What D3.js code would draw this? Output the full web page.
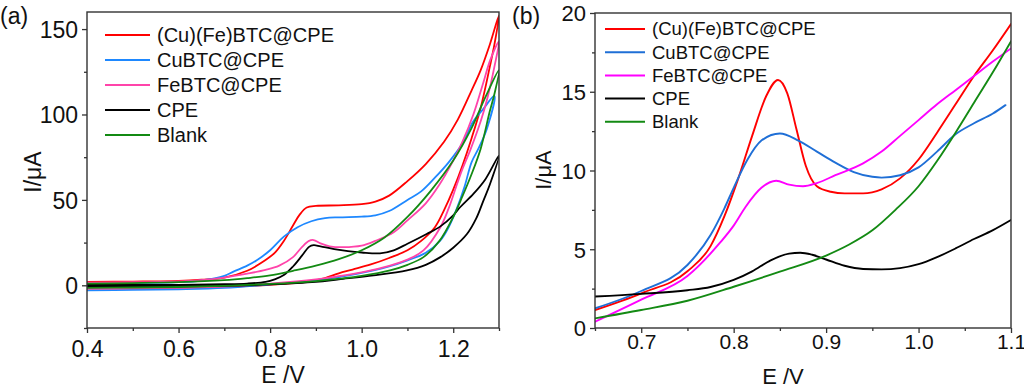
<!DOCTYPE html>
<html><head><meta charset="utf-8">
<script src="https://cdn.jsdelivr.net/npm/d3@7"></script>
<style>
html,body{margin:0;padding:0;background:#fff;}
svg{display:block;font-family:"Liberation Sans",Arial,sans-serif;}
</style></head><body>
<svg id="chart" width="1024" height="390"></svg>
<script>
// ---------- data ----------
const seriesNames = ["(Cu)(Fe)BTC@CPE", "CuBTC@CPE", "FeBTC@CPE", "CPE", "Blank"];
const colorsA = ["#ff0000", "#1e88ff", "#ff44aa", "#000000", "#138a13"];
const colorsB = ["#ff0000", "#1f6fd6", "#ff00ff", "#000000", "#138a13"];

// panel (a): cyclic voltammograms, [E (V), I (uA)] forward then reverse scan
const cvCuFe = [[0.4,2],[0.5,2.2],[0.6,2.6],[0.65,3.3],[0.7,4.5],[0.75,8.5],[0.78,13],[0.81,19],[0.83,26],[0.85,35],[0.865,41.5],[0.88,45.5],[0.9,46.5],[0.95,46.8],[1.0,47.5],[1.03,49],[1.06,52.5],[1.1,61],[1.14,71],[1.18,84],[1.21,97],[1.24,114],[1.26,126],[1.28,141],[1.3,158],
  [1.29,141],[1.28,128],[1.26,104],[1.24,86],[1.22,70],[1.2,56],[1.18,44],[1.16,34],[1.13,26],[1.1,20.5],[1.06,16],[1.02,12.2],[0.98,9.2],[0.95,7],[0.92,4.2],[0.88,2],[0.8,0.3],[0.7,-1],[0.6,-1.5],[0.5,-1.8],[0.4,-2]];
const cvCu = [[0.4,1],[0.5,1.3],[0.6,1.8],[0.65,2.8],[0.7,5.5],[0.72,8],[0.75,11.5],[0.77,14.5],[0.8,20.5],[0.83,28.5],[0.86,34],[0.89,37.5],[0.92,39.3],[0.95,39.8],[1.0,40.2],[1.03,41],[1.06,43.5],[1.1,50],[1.13,55],[1.16,63],[1.19,72],[1.22,83],[1.244,96],[1.265,103],[1.29,111],
  [1.274,92],[1.255,80],[1.24,72],[1.225,58],[1.208,45],[1.19,34],[1.172,26.3],[1.14,19],[1.1,14.6],[1.06,11],[1.026,8.7],[0.953,4.9],[0.9,3],[0.8,0.5],[0.7,-1.5],[0.6,-2.3],[0.5,-2.7],[0.4,-3]];
const cvFe = [[0.4,1.5],[0.5,1.8],[0.6,2.3],[0.65,3],[0.7,4.5],[0.75,6.8],[0.79,9],[0.82,11.5],[0.85,16.5],[0.87,22.5],[0.885,26],[0.895,26.5],[0.91,24.5],[0.93,22.8],[0.96,22.3],[1.0,23.2],[1.03,26],[1.07,31],[1.1,38],[1.14,48],[1.17,59],[1.2,73],[1.22,84],[1.244,100],[1.265,118],[1.281,132],[1.3,143],
  [1.29,128],[1.275,110],[1.26,96],[1.237,79],[1.22,68],[1.208,59],[1.19,45],[1.172,34],[1.135,20.4],[1.1,15],[1.062,11.5],[1.0,7.5],[0.953,5.5],[0.9,3.5],[0.8,1],[0.7,-0.8],[0.6,-1.5],[0.5,-1.8],[0.4,-2]];
const cvCPE = [[0.4,0.2],[0.5,0.2],[0.6,0.3],[0.7,0.6],[0.75,1],[0.79,2],[0.81,3.5],[0.83,6],[0.85,11],[0.87,17.5],[0.885,22.5],[0.895,23.5],[0.91,22.8],[0.94,21.2],[0.97,20],[1.0,19.2],[1.04,18.7],[1.07,20.5],[1.1,24.3],[1.142,30],[1.172,34.5],[1.2,41],[1.215,45.7],[1.244,53.5],[1.27,62],[1.3,76],
  [1.28,59],[1.266,49.6],[1.25,39],[1.23,30],[1.2,22],[1.172,16.5],[1.14,12],[1.099,8.75],[1.026,5.8],[0.95,3.5],[0.9,2],[0.8,0.5],[0.7,-0.3],[0.6,-0.6],[0.4,-0.8]];
const cvBlank = [[0.4,1],[0.5,1.3],[0.6,1.8],[0.7,3],[0.75,4.2],[0.8,5.8],[0.85,8.5],[0.9,11.5],[0.95,15.3],[1.0,20.5],[1.05,28],[1.1,40],[1.15,55],[1.2,73],[1.24,92],[1.27,110],[1.3,126],
  [1.29,112],[1.28,102],[1.26,80],[1.24,65],[1.22,52],[1.2,40],[1.17,26],[1.135,16.5],[1.1,12],[1.062,8.75],[1.0,5.5],[0.953,3.9],[0.9,2.5],[0.8,0.8],[0.7,-0.3],[0.6,-1],[0.5,-1.3],[0.4,-1.5]];

// panel (b): linear sweep segment, [E (V), I (uA)]
const lsvCuFe = [[0.65,1.14],[0.7,2.2],[0.75,3.6],[0.775,5.2],[0.79,7.1],[0.805,9.5],[0.82,12.2],[0.835,14.7],[0.848,15.75],[0.858,14.9],[0.868,12.6],[0.878,10.3],[0.89,9.0],[0.905,8.65],[0.92,8.55],[0.94,8.55],[0.96,8.8],[0.98,9.5],[1.0,10.7],[1.02,12.4],[1.04,14.2],[1.06,16.0],[1.08,17.6],[1.1,19.3]];
const lsvCu = [[0.65,1.25],[0.7,2.35],[0.75,4.0],[0.775,5.9],[0.79,7.6],[0.8,8.9],[0.815,10.7],[0.83,11.9],[0.85,12.35],[0.87,11.9],[0.89,11.2],[0.91,10.5],[0.93,9.9],[0.95,9.6],[0.96,9.55],[0.98,9.7],[1.0,10.2],[1.02,11.2],[1.04,12.3],[1.06,13.0],[1.08,13.6],[1.094,14.15]];
const lsvFe = [[0.65,0.4],[0.7,1.8],[0.75,3.3],[0.785,5.4],[0.8,6.5],[0.813,7.7],[0.83,8.9],[0.846,9.35],[0.86,9.1],[0.875,9.0],[0.89,9.2],[0.91,9.7],[0.94,10.45],[0.96,11.2],[0.98,12.2],[1.0,13.2],[1.02,14.2],[1.04,15.1],[1.06,16.0],[1.08,16.9],[1.1,17.75]];
const lsvCPE = [[0.65,2.0],[0.7,2.17],[0.75,2.4],[0.775,2.6],[0.8,3.05],[0.82,3.6],[0.84,4.3],[0.86,4.72],[0.872,4.78],[0.885,4.65],[0.9,4.35],[0.92,3.95],[0.94,3.75],[0.96,3.72],[0.98,3.8],[1.0,4.05],[1.02,4.5],[1.04,5.05],[1.06,5.65],[1.08,6.2],[1.1,6.86]];
const lsvBlank = [[0.65,0.61],[0.7,1.14],[0.75,1.73],[0.8,2.62],[0.85,3.58],[0.9,4.6],[0.925,5.3],[0.95,6.2],[0.975,7.5],[1.0,9.0],[1.02,10.6],[1.04,12.4],[1.06,14.3],[1.08,16.2],[1.1,18.2]];

// axis tick values
const aXTicks = [0.4, 0.6, 0.8, 1.0, 1.2];
const aXMinor = [0.5, 0.7, 0.9, 1.1, 1.3];
const aYTicks = [0, 50, 100, 150];
const aYMinor = [-25, 25, 75, 125];
const bXTicks = [0.7, 0.8, 0.9, 1.0, 1.1];
const bXMinor = [0.65, 0.75, 0.85, 0.95, 1.05];
const bYTicks = [0, 5, 10, 15, 20];
const bYMinor = [2.5, 7.5, 12.5, 17.5];

// ---------- drawing ----------
const svg = d3.select("#chart");

function panel(opt) {
  const g = svg.append("g");
  const x = d3.scaleLinear().domain(opt.xDomain).range([opt.left, opt.right]);
  const y = d3.scaleLinear().domain(opt.yDomain).range([opt.bottom, opt.top]);
  const clipId = "clip" + opt.id;
  svg.append("clipPath").attr("id", clipId).append("rect")
    .attr("x", opt.left).attr("y", opt.top - 2)
    .attr("width", opt.right - opt.left).attr("height", opt.bottom - opt.top + 2);

  const line = d3.line().x(d => x(d[0])).y(d => y(d[1])).curve(opt.curve);
  const cg = g.append("g").attr("clip-path", `url(#${clipId})`);
  opt.series.forEach((s, i) => {
    cg.append("path").attr("d", line(s)).attr("fill", "none")
      .attr("stroke", opt.colors[i]).attr("stroke-width", opt.sw)
      .attr("stroke-linejoin", "round").attr("stroke-linecap", "round");
  });

  // frame
  g.append("rect").attr("x", opt.left).attr("y", opt.top)
    .attr("width", opt.right - opt.left).attr("height", opt.bottom - opt.top)
    .attr("fill", "none").attr("stroke", "#333").attr("stroke-width", 1.4);

  // axes
  const xa = g.append("g").attr("transform", `translate(0,${opt.bottom})`)
    .call(d3.axisBottom(x).tickValues(opt.xTicks).tickSize(5).tickSizeOuter(0).tickFormat(d3.format(".1f")));
  const xm = g.append("g").attr("transform", `translate(0,${opt.bottom})`)
    .call(d3.axisBottom(x).tickValues(opt.xMinor).tickSize(3).tickSizeOuter(0).tickFormat(""));
  const ya = g.append("g").attr("transform", `translate(${opt.left},0)`)
    .call(d3.axisLeft(y).tickValues(opt.yTicks).tickSize(5).tickSizeOuter(0));
  const ym = g.append("g").attr("transform", `translate(${opt.left},0)`)
    .call(d3.axisLeft(y).tickValues(opt.yMinor).tickSize(3).tickSizeOuter(0).tickFormat(""));
  [xa, xm, ya, ym].forEach(a => {
    a.select(".domain").remove();
    a.selectAll("line").attr("stroke", "#333").attr("stroke-width", 1.3);
    a.selectAll("text").attr("fill", "#111").attr("font-family", '"Liberation Sans",Arial,sans-serif');
  });
  xa.selectAll("text").attr("font-size", opt.xFont).attr("dy", null).attr("y", opt.xLabelY);
  ya.selectAll("text").attr("font-size", opt.yFont).attr("x", -9).attr("dy", "0.36em");

  // axis titles
  g.append("text").attr("x", opt.xTitleX).attr("y", opt.xTitleY).attr("text-anchor", "middle")
    .attr("font-size", opt.titleFont).attr("fill", "#111").text("E /V");
  g.append("text").attr("transform", `translate(${opt.yTitleX},${opt.yTitleY}) rotate(-90)`)
    .attr("text-anchor", "middle").attr("font-size", opt.titleFont).attr("fill", "#111").text("I/μA");
  // panel label
  g.append("text").attr("x", opt.labelX).attr("y", 24).attr("font-size", 23).attr("fill", "#111").text(opt.label);

  // legend
  const lg = g.append("g");
  seriesNames.forEach((n, i) => {
    const yy = opt.legY + i * opt.legStep;
    lg.append("line").attr("x1", opt.legX).attr("x2", opt.legX + opt.legLen)
      .attr("y1", yy).attr("y2", yy).attr("stroke", opt.colors[i]).attr("stroke-width", 2);
    lg.append("text").attr("x", opt.legX + opt.legLen + 7).attr("y", yy).attr("dy", "0.35em")
      .attr("font-size", opt.legFont).attr("fill", "#111").text(n);
  });
}

panel({
  id: "a", left: 87, right: 499, top: 12, bottom: 328,
  xDomain: [0.4, 1.3], yDomain: [-25, 160],
  series: [cvCuFe, cvCu, cvFe, cvCPE, cvBlank], colors: colorsA, sw: 1.8,
  curve: d3.curveCatmullRom.alpha(0.5),
  xTicks: aXTicks, xMinor: aXMinor, yTicks: aYTicks, yMinor: aYMinor,
  xFont: 23, yFont: 23, xLabelY: 29, titleFont: 23,
  xTitleX: 283, xTitleY: 383, yTitleX: 41, yTitleY: 172,
  label: "(a)", labelX: 0,
  legX: 105, legY: 35, legStep: 25, legLen: 45, legFont: 20
});

panel({
  id: "b", left: 595, right: 1011, top: 13, bottom: 328,
  xDomain: [0.65, 1.1], yDomain: [0, 20],
  series: [lsvCuFe, lsvCu, lsvFe, lsvCPE, lsvBlank], colors: colorsB, sw: 1.9,
  curve: d3.curveMonotoneX,
  xTicks: bXTicks, xMinor: bXMinor, yTicks: bYTicks, yMinor: bYMinor,
  xFont: 21, yFont: 22, xLabelY: 21, titleFont: 22,
  xTitleX: 783, xTitleY: 384, yTitleX: 551, yTitleY: 170,
  label: "(b)", labelX: 512,
  legX: 605, legY: 29, legStep: 23.2, legLen: 40, legFont: 18.5
});
</script>
</body></html>
